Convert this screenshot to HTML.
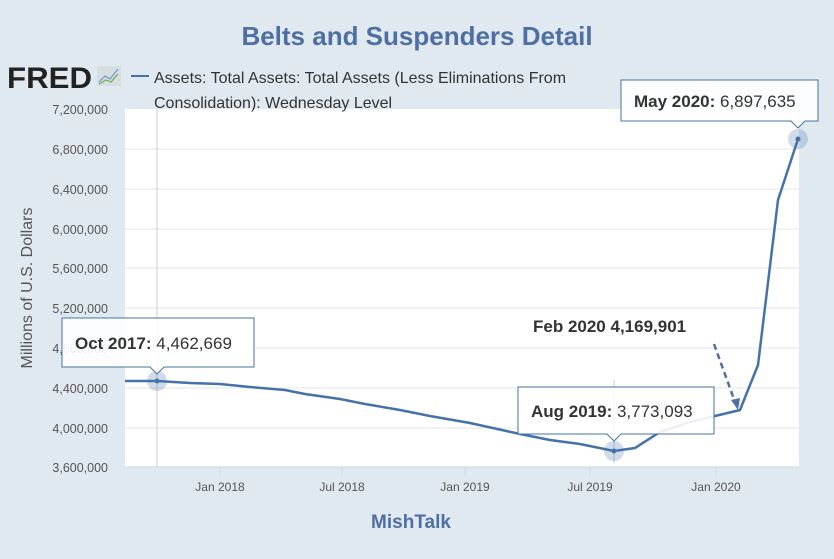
<!DOCTYPE html>
<html><head><style>
body{margin:0;width:834px;height:554px;background:#e1e9f0;font-family:"Liberation Sans",sans-serif;overflow:hidden}
</style></head><body>
<svg width="834" height="554" xmlns="http://www.w3.org/2000/svg" font-family="Liberation Sans, sans-serif">
<rect width="834" height="554" fill="#e1e9f0"/>
<text x="417" y="45" text-anchor="middle" font-size="26" font-weight="bold" fill="#4e6fa3">Belts and Suspenders Detail</text>
<rect x="125" y="109" width="674" height="358" fill="#fff"/>
<text x="7" y="88" font-size="30" font-weight="bold" fill="#222" textLength="85" lengthAdjust="spacingAndGlyphs">FRED</text>
<rect x="97" y="66" width="24" height="20" fill="#d8dde2"/>
<polyline points="99,82 105,76 110,79 118,69" fill="none" stroke="#6a9ad0" stroke-width="1.2"/>
<polyline points="99,84 106,80 111,82 118,74" fill="none" stroke="#6ab04a" stroke-width="1.2"/>
<line x1="131" y1="76" x2="149" y2="76" stroke="#4572a7" stroke-width="2"/>
<text x="154" y="83" font-size="16" fill="#333">Assets: Total Assets: Total Assets (Less Eliminations From</text>
<g stroke="#e6e6e6" stroke-width="1">
<line x1="125" y1="149" x2="799" y2="149"/><line x1="125" y1="189" x2="799" y2="189"/>
<line x1="125" y1="229" x2="799" y2="229"/><line x1="125" y1="268" x2="799" y2="268"/>
<line x1="125" y1="308" x2="799" y2="308"/><line x1="125" y1="348" x2="799" y2="348"/>
<line x1="125" y1="388" x2="799" y2="388"/><line x1="125" y1="428" x2="799" y2="428"/>
</g>
<text x="154" y="108" font-size="16" fill="#333">Consolidation): Wednesday Level</text>
<line x1="125" y1="467" x2="799" y2="467" stroke="#ccd6eb"/>
<g stroke="#ccd6eb"><line x1="220" y1="467" x2="220" y2="476"/><line x1="342" y1="467" x2="342" y2="476"/><line x1="465" y1="467" x2="465" y2="476"/><line x1="590" y1="467" x2="590" y2="476"/><line x1="716" y1="467" x2="716" y2="476"/></g>
<line x1="157" y1="109" x2="157" y2="467" stroke="#ccc"/>
<line x1="614" y1="380" x2="614" y2="463" stroke="#ccc"/>
<g font-size="12.5" fill="#555" text-anchor="end">
<text x="108" y="114">7,200,000</text><text x="108" y="154">6,800,000</text><text x="108" y="194">6,400,000</text>
<text x="108" y="234">6,000,000</text><text x="108" y="273">5,600,000</text><text x="108" y="313">5,200,000</text>
<text x="108" y="353">4,800,000</text><text x="108" y="393">4,400,000</text><text x="108" y="433">4,000,000</text>
<text x="108" y="472">3,600,000</text></g>
<g font-size="12" fill="#555" text-anchor="middle">
<text x="220" y="491">Jan 2018</text><text x="342" y="491">Jul 2018</text><text x="465" y="491">Jan 2019</text><text x="590" y="491">Jul 2019</text><text x="716" y="491">Jan 2020</text></g>
<text transform="translate(32,288) rotate(-90)" text-anchor="middle" font-size="16" fill="#555">Millions of U.S. Dollars</text>
<polyline points="125,381 157,381 190,383 220,384 250,387 285,390 305,394 340,399 365,404 400,410 430,416 470,423 520,434 550,440 580,444 614,451 635,448 660,432 690,422 740,410 758,365 778,200 798,139" fill="none" stroke="#4572a7" stroke-width="2.5"/>
<circle cx="157" cy="381" r="10" fill="#4572a7" opacity="0.25"/><circle cx="157" cy="381" r="2.5" fill="#4572a7"/>
<circle cx="614" cy="451" r="10" fill="#4572a7" opacity="0.25"/><circle cx="614" cy="451" r="2.5" fill="#4572a7"/>
<circle cx="798" cy="139" r="10" fill="#4572a7" opacity="0.25"/><circle cx="798" cy="139" r="2.5" fill="#4572a7"/>
<g fill="#fff" fill-opacity="0.9" stroke="#4572a7" stroke-width="1">
<path d="M62,318 H254 V367 H164 L157,374 L150,367 H62 Z"/>
<path d="M518,387 H714 V434 H621 L614,441 L607,434 H518 Z"/>
<path d="M621,80 H818 V121 H805 L798,128 L791,121 H621 Z"/>
</g>
<text x="75" y="349" font-size="17" fill="#333"><tspan font-weight="bold">Oct 2017:</tspan> 4,462,669</text>
<text x="531" y="417" font-size="17" fill="#333"><tspan font-weight="bold">Aug 2019:</tspan> 3,773,093</text>
<text x="634" y="107" font-size="17" fill="#333"><tspan font-weight="bold">May 2020:</tspan> 6,897,635</text>
<text x="533" y="332" font-size="17" font-weight="bold" fill="#333">Feb 2020 4,169,901</text>
<line x1="714" y1="344" x2="735" y2="402" stroke="#4e6fa3" stroke-width="2.5" stroke-dasharray="6,4"/>
<path d="M731,400 L738,410 L740,398 Z" fill="#4e6fa3"/>
<text x="411" y="528" text-anchor="middle" font-size="19" font-weight="bold" fill="#4e6fa3">MishTalk</text>
</svg>
</body></html>
